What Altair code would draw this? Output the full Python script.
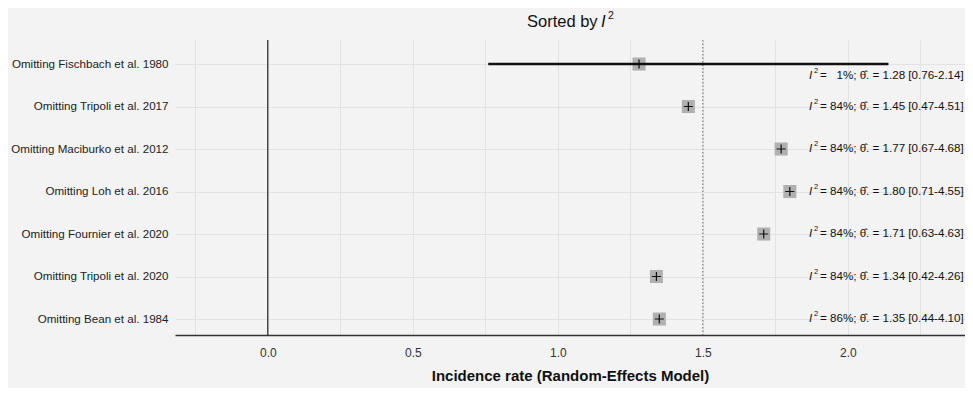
import json
import altair as alt
import pandas as pd

# ---------------- data ----------------
studies = [
    "Omitting Fischbach et al. 1980",
    "Omitting Tripoli et al. 2017",
    "Omitting Maciburko et al. 2012",
    "Omitting Loh et al. 2016",
    "Omitting Fournier et al. 2020",
    "Omitting Tripoli et al. 2020",
    "Omitting Bean et al. 1984",
]
i2_pct = [1, 84, 84, 84, 84, 84, 86]
estimate = [1.28, 1.45, 1.77, 1.80, 1.71, 1.34, 1.35]
ci_lower = [0.76, 0.47, 0.67, 0.71, 0.63, 0.42, 0.44]
ci_upper = [2.14, 4.51, 4.68, 4.55, 4.63, 4.26, 4.10]
ci_drawn = [True, False, False, False, False, False, False]
x_label_ticks = [0.0, 0.5, 1.0, 1.5, 2.0]
x_grid_ticks = [-0.25, 0.0, 0.25, 0.5, 0.75, 1.0, 1.25, 1.5, 1.75, 2.0, 2.25]
null_line = [0.0]
pooled_line = [1.5]

FONT = "Liberation Sans"
BG = "#f3f3f3"
GRID = "#e3e3e3"


def pct_text(p):
    s = f"{p}%"
    return ("\u00a0\u00a0" + s) if p < 10 else s


rows = list(range(len(studies)))
df = pd.DataFrame({
    "row": rows,
    "study": studies,
    "est": estimate,
    "lo": ci_lower,
    "hi": ci_upper,
    "drawn": ci_drawn,
    "label": [
        f"= {pct_text(p)}; \u03b8\u0302. = {e:.2f} [{l:.2f}-{h:.2f}]"
        for p, e, l, h in zip(i2_pct, estimate, ci_lower, ci_upper)
    ],
})

x_scale = alt.Scale(domain=[-0.32, 2.404], nice=False, zero=False)
y_scale = alt.Scale(domain=[-0.565, 6.376], reverse=True, nice=False, zero=False)

label_tick_expr = " || ".join(f"abs(datum.value - {v}) < 1e-9" for v in x_label_ticks)
x_axis = alt.Axis(
    values=x_grid_ticks,
    labelExpr=f"({label_tick_expr}) ? format(datum.value, '.1f') : ''",
    title="Incidence rate (Random-Effects Model)",
    titleFont=FONT, titleFontSize=15, titleFontWeight="bold", titleColor="#111",
    titlePadding=10,
    labelFont=FONT, labelFontSize=12, labelColor="#333", labelPadding=12,
    ticks=False, domain=True, domainColor="#333", domainWidth=1.6,
    grid=True, gridColor=GRID, gridWidth=1,
)
y_axis = alt.Axis(
    values=rows,
    labelExpr=f"{json.dumps(studies)}[datum.value]",
    title=None,
    labelFont=FONT, labelFontSize=11.6, labelColor="#222", labelPadding=7,
    ticks=False, domain=False,
    grid=True, gridColor=GRID, gridWidth=1,
)

X = lambda f: alt.X(f, type="quantitative", scale=x_scale, axis=x_axis)
Y = alt.Y("row:Q", scale=y_scale, axis=y_axis)

base = alt.Chart(df)

points_sq = base.mark_square(size=170, color="#b0b0b0", opacity=1).encode(x=X("est"), y=Y)

null_rule = alt.Chart(pd.DataFrame({"v": null_line})).mark_rule(
    color="#111", strokeWidth=1.1
).encode(x=alt.X("v:Q", scale=x_scale, axis=x_axis))

pooled_rule = alt.Chart(pd.DataFrame({"v": pooled_line})).mark_rule(
    color="#777", strokeWidth=1.1, strokeDash=[1.5, 2]
).encode(x=alt.X("v:Q", scale=x_scale, axis=x_axis))

ci = base.transform_filter("datum.drawn").mark_rule(
    color="#111", strokeWidth=2.6
).encode(x=X("lo"), x2="hi", y=Y)

cross = base.mark_point(
    shape="M-1,0L1,0M0,-1L0,1", filled=False, color="#111", strokeWidth=1.2, size=81, opacity=1
).encode(x=X("est"), y=Y)

TXT_X = 645
I_X = 634


def annot(filter_expr, dy):
    b = base.transform_filter(filter_expr)
    main = b.mark_text(
        align="left", baseline="middle", font=FONT, fontSize=11.6, color="#111", dy=dy
    ).encode(x=alt.value(TXT_X), y=Y, text="label:N")
    ital = b.mark_text(
        align="left", baseline="middle", font=FONT, fontSize=11.6, fontStyle="italic",
        color="#111", dy=dy, text="I"
    ).encode(x=alt.value(I_X), y=Y)
    sup = b.mark_text(
        align="left", baseline="middle", font=FONT, fontSize=7.5, color="#111",
        dy=dy - 5, text="2"
    ).encode(x=alt.value(I_X + 5), y=Y)
    return [main, ital, sup]


title_df = pd.DataFrame({"t": ["Sorted by"]})
title_main = alt.Chart(title_df).mark_text(
    align="left", baseline="alphabetic", font=FONT, fontSize=16.5, color="#111"
).encode(x=alt.value(352), y=alt.value(-13), text="t:N")
title_i = alt.Chart(title_df).mark_text(
    align="left", baseline="alphabetic", font=FONT, fontSize=16.5, fontStyle="italic",
    color="#111", text="I"
).encode(x=alt.value(426), y=alt.value(-13))
title_2 = alt.Chart(title_df).mark_text(
    align="left", baseline="alphabetic", font=FONT, fontSize=10.5, color="#111", text="2"
).encode(x=alt.value(433), y=alt.value(-21))

chart = alt.layer(
    points_sq, null_rule, pooled_rule, ci, cross,
    *annot("datum.drawn", 12), *annot("!datum.drawn", 0),
    title_main, title_i, title_2,
).properties(
    width=790, height=295,
    autosize=alt.AutoSizeParams(type="none"),
    padding={"left": 167, "top": 32, "right": 0, "bottom": 53},
    background=BG,
).configure_view(stroke=None, fill=BG)

chart.save("out.html", embed_options={"renderer": "svg", "actions": False})
